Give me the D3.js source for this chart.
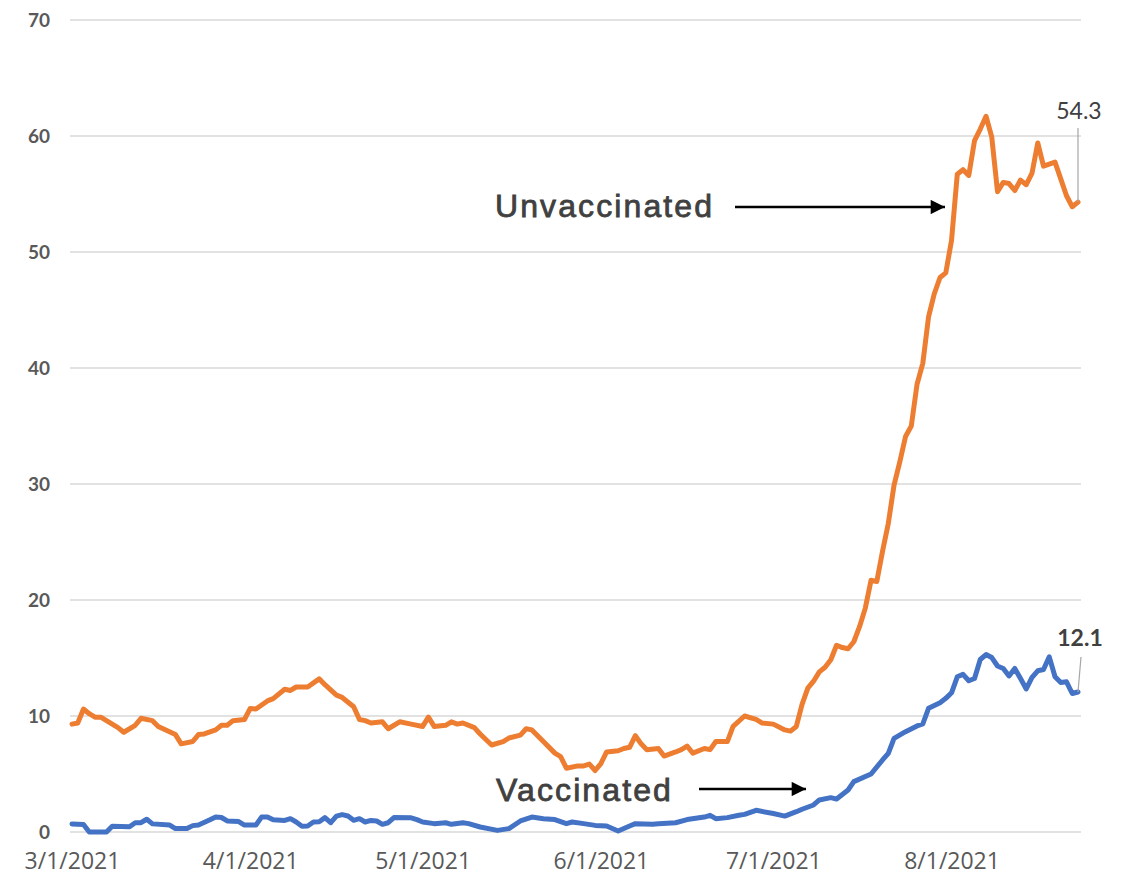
<!DOCTYPE html>
<html>
<head>
<meta charset="utf-8">
<script src="https://cdn.jsdelivr.net/npm/d3@7"></script>
<style>
  body { margin: 0; background: #fff; }
  .ytick { font-family: Lato, "Open Sans", sans-serif; font-weight: bold; font-size: 19px; fill: #595959; }
  .xtick { font-family: "Open Sans", "Noto Sans", sans-serif; font-size: 23px; fill: #595959; }
  .callout { font-family: "Liberation Sans", Arial, sans-serif; font-size: 32px; fill: #404040; stroke: #404040; stroke-width: 0.8px; letter-spacing: 2.1px; }
  .endlabel { font-family: Lato, "Open Sans", sans-serif; font-size: 23px; fill: #404040; }
</style>
</head>
<body>
<div id="chart"></div>
<script>
// days since 3/1/2021
var startDate = new Date(2021, 2, 1);
var endDay = 175;

var unvaxDay = [0,1,2,3,4,5,7,8,9,11,12,14,15,18,19,21,22,23,25,26,27,28,30,31,32,34,35,37,38,39,41,43,44,46,47,49,50,51,52,54,55,57,59,61,62,63,65,66,67,68,70,71,73,75,76,78,79,80,82,84,85,86,88,89,90,91,92,93,95,96,97,98,99,100,102,103,105,106,107,108,110,111,112,114,115,117,119,120,122,124,125,126,127,128,129,130,131,132,133,134,135,136,137,138,139,140,141,142,143,144,145,146,147,148,149,150,151,152,153,154,155,156,157,158,159,160,161,162,163,164,165,166,167,168,169,171,172,173,174,175];
var unvaxRate = [9.3,9.4,10.6,10.2,9.9,9.9,9.3,9.0,8.6,9.2,9.8,9.6,9.1,8.4,7.6,7.8,8.4,8.45,8.8,9.2,9.2,9.6,9.7,10.65,10.6,11.3,11.5,12.3,12.2,12.5,12.5,13.2,12.7,11.8,11.6,10.8,9.7,9.6,9.4,9.5,8.9,9.5,9.3,9.1,9.9,9.1,9.2,9.5,9.3,9.4,9.0,8.45,7.5,7.8,8.1,8.35,8.9,8.8,7.8,6.8,6.5,5.5,5.7,5.7,5.85,5.3,5.9,6.9,7.0,7.2,7.3,8.3,7.6,7.1,7.2,6.55,6.9,7.1,7.4,6.8,7.2,7.1,7.8,7.8,9.1,10.0,9.7,9.4,9.3,8.8,8.7,9.1,11.0,12.4,13.0,13.8,14.2,14.85,16.1,15.9,15.8,16.4,17.7,19.3,21.7,21.6,24.2,26.6,29.9,31.9,34.1,35.0,38.6,40.4,44.4,46.4,47.8,48.2,51.0,56.7,57.1,56.6,59.6,60.6,61.7,59.9,55.2,56.0,55.9,55.3,56.2,55.8,56.8,59.4,57.4,57.75,56.3,54.85,53.9,54.3];

var vaxDay = [0,2,3,6,7,10,11,12,13,14,17,18,20,21,22,24,25,26,27,29,30,32,33,34,35,37,38,39,40,41,42,43,44,45,46,47,48,49,50,51,52,53,54,55,56,59,60,61,63,65,66,68,69,71,74,76,78,80,82,84,86,87,89,91,93,95,97,98,101,102,105,107,110,111,112,114,116,117,119,122,124,126,127,129,130,132,133,135,136,139,141,142,143,145,147,148,149,151,152,153,154,155,156,157,158,159,160,161,162,163,164,165,166,167,168,169,170,171,172,173,174,175];
var vaxRate = [0.7,0.65,0.0,0.0,0.5,0.45,0.8,0.8,1.1,0.7,0.6,0.3,0.3,0.55,0.6,1.05,1.3,1.25,0.95,0.9,0.6,0.6,1.3,1.3,1.05,1.0,1.15,0.86,0.5,0.52,0.86,0.89,1.24,0.8,1.37,1.5,1.38,1.01,1.15,0.86,1.0,0.95,0.66,0.8,1.24,1.22,1.07,0.86,0.72,0.8,0.66,0.8,0.72,0.43,0.14,0.29,0.95,1.29,1.15,1.07,0.72,0.86,0.72,0.57,0.52,0.09,0.52,0.72,0.66,0.72,0.8,1.07,1.29,1.44,1.15,1.24,1.44,1.52,1.87,1.59,1.37,1.75,1.96,2.33,2.76,2.96,2.84,3.62,4.34,5.0,6.21,6.78,8.07,8.65,9.14,9.31,10.66,11.15,11.52,12.0,13.38,13.59,13.04,13.23,14.87,15.3,15.04,14.31,14.1,13.45,14.1,13.23,12.33,13.32,13.9,14.01,15.1,13.38,12.89,12.95,11.94,12.07];

var yTicks = [0, 10, 20, 30, 40, 50, 60, 70];
var xTickDates = ["2021-03-01", "2021-04-01", "2021-05-01", "2021-06-01", "2021-07-01", "2021-08-01"];

var width = 1130, height = 875;

var svg = d3.select("#chart").append("svg")
  .attr("width", width)
  .attr("height", height);

var x = d3.scaleTime()
  .domain([startDate, d3.timeDay.offset(startDate, endDay)])
  .range([72, 1078]);
var y = d3.scaleLinear().domain([0, 70]).range([832, 20]);

// gridlines
svg.append("g").selectAll("line")
  .data(yTicks)
  .enter().append("line")
  .attr("x1", 70).attr("x2", 1081)
  .attr("y1", function(d) { return y(d); })
  .attr("y2", function(d) { return y(d); })
  .attr("stroke", "#d9d9d9")
  .attr("stroke-width", 1.5);

// y axis labels
var yAxis = d3.axisLeft(y).tickValues(yTicks).tickSize(0).tickPadding(0);
svg.append("g")
  .attr("transform", "translate(50,0)")
  .call(yAxis)
  .call(function(g) { g.select(".domain").remove(); })
  .selectAll("text")
  .attr("class", "ytick")
  .attr("dy", "0.36em")
  .attr("font-family", null).attr("font-size", null);

// x axis labels
var fmt = d3.timeFormat("%-m/%-d/%Y");
var xAxis = d3.axisBottom(x)
  .tickValues(xTickDates.map(function(s) { return d3.timeParse("%Y-%m-%d")(s); }))
  .tickFormat(fmt)
  .tickSize(0).tickPadding(0);
svg.append("g")
  .attr("transform", "translate(0,869)")
  .call(xAxis)
  .call(function(g) { g.select(".domain").remove(); })
  .selectAll("text")
  .attr("class", "xtick")
  .attr("dy", 0)
  .attr("font-family", null).attr("font-size", null);

function toPoints(days, vals) {
  return days.map(function(d, i) { return [d3.timeDay.offset(startDate, d), vals[i]]; });
}

var line = d3.line()
  .x(function(d) { return x(d[0]); })
  .y(function(d) { return y(d[1]); });

var unvax = toPoints(unvaxDay, unvaxRate);
var vax = toPoints(vaxDay, vaxRate);

svg.append("path")
  .datum(vax)
  .attr("d", line)
  .attr("fill", "none")
  .attr("stroke", "#4472C4")
  .attr("stroke-width", 5)
  .attr("stroke-linejoin", "round")
  .attr("stroke-linecap", "round");

svg.append("path")
  .datum(unvax)
  .attr("d", line)
  .attr("fill", "none")
  .attr("stroke", "#ED7D31")
  .attr("stroke-width", 5)
  .attr("stroke-linejoin", "round")
  .attr("stroke-linecap", "round");

// arrows
var defs = svg.append("defs");
defs.append("marker")
  .attr("id", "arrow")
  .attr("viewBox", "0 0 10 10")
  .attr("refX", 10).attr("refY", 5)
  .attr("markerWidth", 6).attr("markerHeight", 5.5)
  .attr("markerUnits", "strokeWidth")
  .attr("orient", "auto")
  .append("path")
  .attr("d", "M0,0L10,5L0,10Z")
  .attr("fill", "#000");

svg.append("line")
  .attr("x1", 735).attr("y1", 207).attr("x2", 945).attr("y2", 207)
  .attr("stroke", "#000").attr("stroke-width", 2.6)
  .attr("marker-end", "url(#arrow)");

svg.append("line")
  .attr("x1", 699).attr("y1", 789).attr("x2", 806).attr("y2", 789)
  .attr("stroke", "#000").attr("stroke-width", 2.6)
  .attr("marker-end", "url(#arrow)");

svg.append("text").attr("class", "callout")
  .attr("x", 495).attr("y", 217).text("Unvaccinated");
svg.append("text").attr("class", "callout")
  .attr("x", 496).attr("y", 801).text("Vaccinated");

// end labels with leader lines
var lastU = unvax[unvax.length - 1], lastV = vax[vax.length - 1];

svg.append("line")
  .attr("x1", x(lastU[0])).attr("y1", 128)
  .attr("x2", x(lastU[0])).attr("y2", y(lastU[1]))
  .attr("stroke", "#a6a6a6").attr("stroke-width", 1.2);
svg.append("text").attr("class", "endlabel")
  .attr("x", 1079).attr("y", 119)
  .attr("text-anchor", "middle")
  .text(lastU[1].toFixed(1));

svg.append("line")
  .attr("x1", 1081).attr("y1", 657)
  .attr("x2", x(lastV[0])).attr("y2", y(lastV[1]))
  .attr("stroke", "#a6a6a6").attr("stroke-width", 1.2);
svg.append("text").attr("class", "endlabel")
  .attr("x", 1080).attr("y", 646)
  .attr("text-anchor", "middle")
  .attr("font-weight", "bold")
  .text(lastV[1].toFixed(1));
</script>
</body>
</html>
